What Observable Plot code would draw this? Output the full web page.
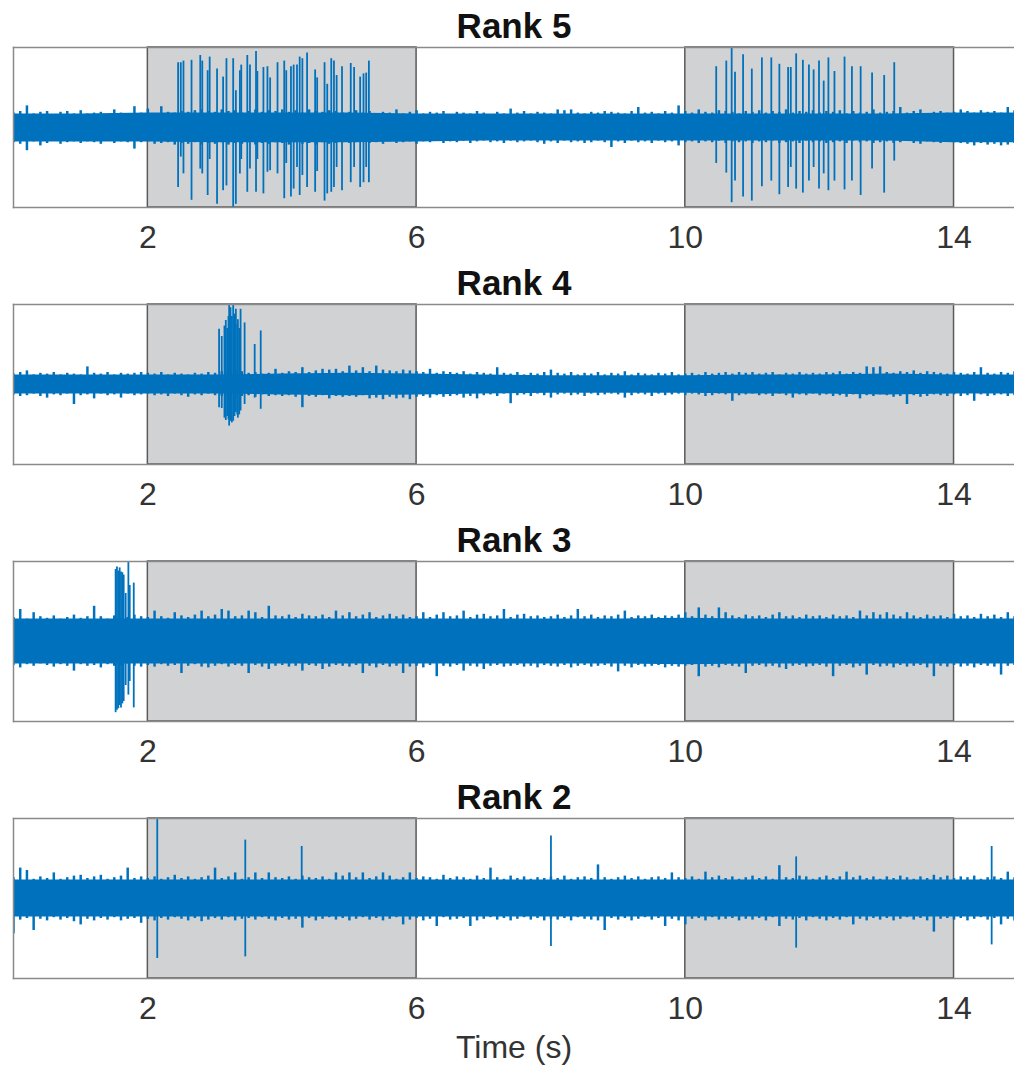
<!DOCTYPE html>
<html>
<head>
<meta charset="utf-8">
<script src="https://cdn.jsdelivr.net/npm/d3@7"></script>
<script src="https://cdn.jsdelivr.net/npm/@observablehq/plot@0.6"></script>
<style>
  html, body { margin: 0; padding: 0; background: #fff; overflow: hidden; }
  #chart svg { display: block; }
</style>
</head>
<body>
<div id="chart"></div>
<script>
// ---------------- DATA ----------------
const xTicks = [2, 6, 10, 14];
const shadedStart = [2, 10];
const shadedEnd = [6, 14];
const panelTitles = ["Rank 5", "Rank 4", "Rank 3", "Rank 2"];
const xLabel = "Time (s)";

// noise envelope: max / min per 0.1 s window (t = 0 .. 15 s), arbitrary units (frame = ±100)
const rank5Hi = [18,20,27,17,19,20,16,19,20,17, 21,17,18,19,16,22,18,17,26,18, 23,17,26,19,18,20,19,21,22,20, 19,22,20,21,18,20,22,19,21,20, 22,19,21,18,22,20,19,21,20,18, 19,21,18,20,17,19,18,22,17,19, 21,17,19,18,20,16,19,18,17,20, 18,16,19,17,23,18,20,17,19,18, 17,22,21,22,18,17,19,18,20,19, 18,17,20,25,18,19,17,20,18,27, 20,18,22,19,18,21,20,19,17,20, 19,21,18,20,19,22,18,20,19,21, 18,20,19,21,17,20,18,19,22,18, 19,20,25,18,20,22,17,19,20,18, 19,22,20,18,21,19,20,18,25,21, 20];
const rank5Lo = [-19,-21,-29,-18,-23,-20,-17,-21,-19,-18, -20,-18,-19,-21,-17,-20,-18,-19,-27,-19, -18,-21,-20,-19,-22,-20,-21,-19,-22,-20, -21,-19,-22,-20,-21,-19,-22,-20,-21,-19, -20,-22,-19,-21,-20,-22,-19,-21,-20,-19, -20,-19,-18,-20,-19,-21,-18,-20,-19,-18, -21,-18,-19,-17,-20,-18,-19,-17,-20,-18, -17,-19,-18,-20,-17,-19,-18,-17,-19,-21, -18,-20,-17,-19,-18,-20,-19,-17,-19,-25, -18,-20,-17,-19,-18,-20,-17,-19,-18,-23, -19,-18,-20,-18,-19,-17,-20,-18,-19,-18, -20,-18,-19,-17,-20,-19,-18,-20,-17,-19, -18,-20,-19,-18,-20,-17,-19,-18,-20,-19, -18,-20,-19,-17,-20,-21,-18,-19,-20,-18, -19,-20,-21,-23,-20,-22,-21,-23,-22,-20, -21];
const rank4Hi = [13,15,17,12,14,13,15,12,14,13, 12,22,14,13,15,12,14,13,14,15, 14,13,15,12,14,13,12,14,13,15, 14,16,15,17,16,14,15,13,14,19, 14,16,15,21,15,17,19,18,19,16, 23,17,21,16,23,18,17,16,18,17, 16,15,19,14,16,15,14,16,13,15, 14,13,21,14,13,15,12,14,13,15, 18,14,13,15,12,14,13,15,12,14, 13,16,12,14,13,12,14,13,15,12, 13,14,12,15,13,14,15,13,15,14, 15,13,14,15,12,14,13,15,13,14, 13,15,14,16,13,15,14,22,21,22, 15,14,16,15,17,14,16,15,14,13, 15,14,13,15,21,14,13,15,14,16, 14];
const rank4Lo = [-13,-15,-14,-12,-15,-17,-13,-14,-12,-25, -14,-13,-18,-12,-14,-13,-17,-12,-14,-13, -12,-14,-13,-15,-12,-14,-16,-13,-14,-12, -14,-15,-13,-16,-15,-14,-16,-13,-15,-14, -15,-14,-16,-29,-15,-16,-14,-18,-15,-16, -15,-16,-14,-18,-17,-19,-16,-18,-17,-19, -16,-15,-17,-14,-16,-15,-14,-17,-15,-18, -14,-13,-15,-12,-24,-14,-13,-15,-12,-14, -17,-13,-12,-14,-13,-15,-12,-14,-13,-12, -13,-17,-14,-12,-13,-15,-12,-14,-13,-12, -14,-12,-13,-15,-14,-12,-13,-21,-14,-13, -12,-14,-13,-15,-12,-14,-17,-13,-14,-12, -14,-13,-15,-14,-16,-13,-18,-14,-15,-13, -14,-16,-15,-25,-14,-16,-15,-13,-14,-15, -13,-15,-14,-21,-13,-15,-14,-13,-15,-14, -13];
const rank3Hi = [30,40,28,36,31,29,32,28,30,33, 29,31,44,31,28,32,29,30,33,31, 30,38,31,29,36,32,30,33,38,31, 33,40,38,31,32,38,36,30,44,32, 31,33,30,34,32,31,33,30,38,32, 36,31,33,36,30,32,34,31,33,30, 31,36,30,33,36,31,32,38,30,33, 34,31,32,40,30,33,34,31,32,30, 31,33,30,32,40,31,33,30,32,31, 33,38,30,32,31,33,30,32,31,33, 36,31,42,33,31,42,36,32,30,33, 31,32,30,33,36,31,32,30,33,31, 32,30,33,31,32,30,38,32,36,33, 36,33,31,36,32,30,33,31,32,30, 34,31,32,30,34,31,33,30,36,31, 32];
const rank3Lo = [-30,-33,-29,-31,-28,-30,-32,-29,-31,-37, -29,-31,-30,-33,-29,-31,-30,-28,-31,-32, -30,-32,-29,-31,-30,-40,-31,-29,-32,-33, -31,-29,-32,-30,-31,-40,-30,-32,-35,-31, -30,-32,-31,-37,-30,-31,-35,-32,-30,-31, -32,-30,-40,-31,-33,-30,-32,-31,-40,-32, -31,-33,-30,-44,-31,-32,-30,-37,-31,-32, -35,-31,-30,-32,-31,-30,-32,-31,-33,-30, -31,-32,-30,-33,-31,-30,-32,-31,-30,-32, -38,-31,-33,-30,-32,-31,-30,-33,-31,-32, -31,-30,-44,-32,-31,-33,-30,-31,-32,-40, -31,-30,-32,-31,-33,-35,-31,-30,-32,-31, -30,-32,-44,-31,-30,-33,-31,-42,-30,-32, -31,-33,-30,-32,-31,-30,-33,-44,-31,-32, -30,-32,-31,-33,-30,-31,-32,-42,-31,-30, -32];
const rank2Hi = [26,38,35,24,27,25,32,24,26,28, 29,25,27,29,24,26,28,38,25,27, 25,27,24,26,29,25,27,24,26,28, 38,25,27,32,24,26,32,25,32,26, 25,27,24,28,26,25,27,24,32,28, 32,26,32,25,27,32,28,24,26,32, 25,27,26,24,29,25,27,26,24,28, 25,38,26,24,28,25,27,24,26,25, 27,25,28,24,26,27,25,42,26,24, 26,28,25,27,24,26,27,25,32,26, 25,27,24,33,26,28,25,27,24,26, 28,25,27,24,41,26,25,28,27,24, 26,28,25,27,33,26,28,25,27,24, 27,25,28,26,24,27,25,29,26,28, 25,27,26,28,24,26,27,25,33,26, 27];
const rank2Lo = [-44,-27,-25,-40,-26,-28,-24,-27,-25,-29, -33,-26,-28,-25,-27,-24,-28,-26,-25,-31, -26,-28,-25,-27,-24,-26,-28,-25,-29,-27, -25,-27,-24,-28,-26,-25,-27,-24,-26,-28, -25,-27,-26,-37,-25,-28,-26,-24,-27,-25, -28,-26,-24,-27,-25,-28,-26,-24,-33,-27, -25,-28,-26,-35,-24,-27,-26,-25,-35,-28, -26,-24,-27,-25,-28,-26,-24,-27,-25,-28, -26,-27,-25,-28,-24,-26,-27,-28,-40,-25, -27,-25,-28,-26,-24,-27,-25,-35,-26,-28, -33,-26,-25,-28,-24,-27,-26,-25,-28,-26, -27,-25,-28,-24,-35,-26,-27,-25,-28,-24, -26,-28,-25,-27,-24,-33,-26,-28,-25,-27, -25,-28,-26,-24,-27,-25,-28,-42,-26,-25, -27,-25,-28,-26,-24,-27,-25,-33,-26,-28, -26];

// solid noise core, per 1 s (t = 0 .. 15 s)
const rank5CoreHi = [17,17,18,18,18,18,17,17,17,17,17,17,17,17,18,18];
const rank5CoreLo = [-18,-18,-18,-19,-19,-19,-18,-17,-17,-17,-17,-17,-17,-17,-19,-19];
const rank4CoreHi = [12,12,12,12,13,14,13,12,11,11,11,12,12,13,12,12];
const rank4CoreLo = [-12,-12,-12,-12,-13,-14,-13,-12,-11,-11,-11,-12,-12,-13,-12,-12];
const rank3CoreHi = [28,28,28,28,28,28,28,28,28,28,29,28,28,28,28,28];
const rank3CoreLo = [-28,-28,-28,-28,-28,-28,-28,-28,-28,-28,-29,-28,-28,-28,-28,-28];
const rank2CoreHi = [23,23,23,23,23,23,23,23,23,23,23,23,23,23,23,23];
const rank2CoreLo = [-23,-23,-23,-23,-23,-23,-23,-23,-23,-23,-23,-23,-23,-23,-23,-23];

// spikes: time (s), positive peak, negative peak
const rank5SpikeT = [2.45,2.49,2.53,2.65,2.78,2.81,2.89,2.92,3.03,3.12,3.17,3.27,3.31,3.37,3.39,3.48,3.52,3.61,3.63,3.72,3.78,3.82,3.93,4.03,4.06,4.13,4.17,4.22,4.26,4.30,4.37,4.49,4.52,4.63,4.67,4.73,4.77,4.81,4.89,5.02,5.07,5.16,5.21,5.25,5.29, 10.46,10.61,10.69,10.74,10.86,10.99,11.14,11.28,11.40,11.53,11.57,11.65,11.75,11.84,11.91,11.99,12.06,12.13,12.22,12.37,12.48,12.61,12.78,12.96,13.11];
const rank5SpikeTop = [81,81,83,84,90,83,71,88,73,63,86,86,46,71,78,90,78,95,70,75,76,62,81,83,71,76,78,78,88,86,93,72,62,81,54,86,83,65,76,80,75,63,67,68,83, 76,83,99,69,91,73,87,87,79,75,75,92,84,78,72,83,58,87,70,88,76,76,68,65,81];
const rank5SpikeBottom = [-75,-37,-58,-91,-52,-58,-85,-40,-96,-79,-73,-100,-96,-58,-40,-81,-52,-81,-40,-83,-56,-54,-58,-89,-45,-87,-77,-50,-85,-60,-75,-81,-55,-92,-83,-81,-75,-50,-79,-69,-50,-75,-69,-50,-69, -45,-57,-94,-67,-87,-92,-74,-67,-84,-75,-50,-77,-82,-67,-50,-77,-58,-79,-67,-78,-67,-85,-52,-82,-42];
const rank4SpikeT = [3.06,3.10,3.14,3.16,3.18,3.20,3.21,3.23,3.25,3.27,3.29,3.31,3.33,3.34,3.36,3.38,3.44,3.59,3.68];
const rank4SpikeTop = [69,60,73,80,70,85,100,96,85,100,88,94,75,81,70,94,77,50,67];
const rank4SpikeBottom = [-29,-30,-42,-45,-40,-44,-52,-46,-48,-46,-40,-35,-38,-42,-38,-33,-25,-17,-31];
const rank3SpikeT = [1.52,1.54,1.56,1.58,1.60,1.62,1.64,1.67,1.71,1.73,1.79];
const rank3SpikeTop = [90,93,88,92,87,86,83,60,104,70,73];
const rank3SpikeBottom = [-89,-86,-84,-80,-83,-78,-75,-55,-67,-50,-83];
const rank2SpikeT = [2.14,3.45,4.29,8.00,11.65,14.56];
const rank2SpikeTop = [110,73,65,78,52,65];
const rank2SpikeBottom = [-75,-73,-25,-60,-62,-58];

// ---------------- CHART ----------------
const blue = "#0072BD";
const font = "'Liberation Sans', Arial, Helvetica, sans-serif";
const envTimes = d3.range(rank5Hi.length).map(i => i / 10);
const coreTimes = d3.range(rank5CoreHi.length);
const shaded = shadedStart.map((s, i) => ({x1: s, x2: shadedEnd[i]}));

const panels = [
  {title: panelTitles[0], hi: rank5Hi, lo: rank5Lo, cHi: rank5CoreHi, cLo: rank5CoreLo, sT: rank5SpikeT, sTop: rank5SpikeTop, sBot: rank5SpikeBottom},
  {title: panelTitles[1], hi: rank4Hi, lo: rank4Lo, cHi: rank4CoreHi, cLo: rank4CoreLo, sT: rank4SpikeT, sTop: rank4SpikeTop, sBot: rank4SpikeBottom},
  {title: panelTitles[2], hi: rank3Hi, lo: rank3Lo, cHi: rank3CoreHi, cLo: rank3CoreLo, sT: rank3SpikeT, sTop: rank3SpikeTop, sBot: rank3SpikeBottom},
  {title: panelTitles[3], hi: rank2Hi, lo: rank2Lo, cHi: rank2CoreHi, cLo: rank2CoreLo, sT: rank2SpikeT, sTop: rank2SpikeTop, sBot: rank2SpikeBottom}
];

const chart = document.getElementById("chart");
panels.forEach((p, k) => {
  const last = k === panels.length - 1;
  const env = envTimes.map((t, i) => ({t, hi: p.hi[i], lo: p.lo[i]}));
  const core = coreTimes.map((t, i) => ({t, hi: p.cHi[i], lo: p.cLo[i]}));
  const spikes = p.sT.map((t, i) => ({t, top: p.sTop[i], bottom: p.sBot[i]}));
  const svg = Plot.plot({
    width: 1014,
    height: last ? 299 : 257,
    marginLeft: 13,
    marginRight: 0,
    marginTop: 47,
    marginBottom: last ? 92 : 50,
    style: {fontFamily: font, background: "white", overflow: "visible"},
    x: {domain: [0, 14.9]},
    y: {domain: [-100, 100], axis: null},
    marks: [
      Plot.rect(shaded, {x1: "x1", x2: "x2", fill: "#d1d2d4", stroke: "#5a5a5a", strokeWidth: 1.5}),
      Plot.areaY(core, {x: "t", y1: "lo", y2: "hi", fill: blue, curve: "linear"}),
      Plot.ruleX(env, {x: "t", y1: "lo", y2: "hi", stroke: blue, strokeWidth: 2.5, clip: true}),
      Plot.ruleX(spikes, {x: "t", y1: "bottom", y2: "top", stroke: blue, strokeWidth: 1.8, clip: true}),
      Plot.frame({anchor: "left", stroke: "#8a8a8a", strokeWidth: 1.5}),
      Plot.frame({anchor: "top", stroke: "#8a8a8a", strokeWidth: 1.5}),
      Plot.frame({anchor: "bottom", stroke: "#8a8a8a", strokeWidth: 1.5}),
      Plot.axisX({ticks: xTicks, tickSize: 0, tickPadding: 18, fontSize: 32, fill: "#333", label: null}),
      Plot.text([p.title], {frameAnchor: "top", dy: -10, lineAnchor: "bottom", fontSize: 35, fontWeight: "bold", fill: "#111"}),
      ...(last ? [Plot.text([xLabel], {frameAnchor: "bottom", dy: 79, lineAnchor: "bottom", fontSize: 32, fill: "#333"})] : [])
    ]
  });
  chart.appendChild(svg);
});
</script>
</body>
</html>
